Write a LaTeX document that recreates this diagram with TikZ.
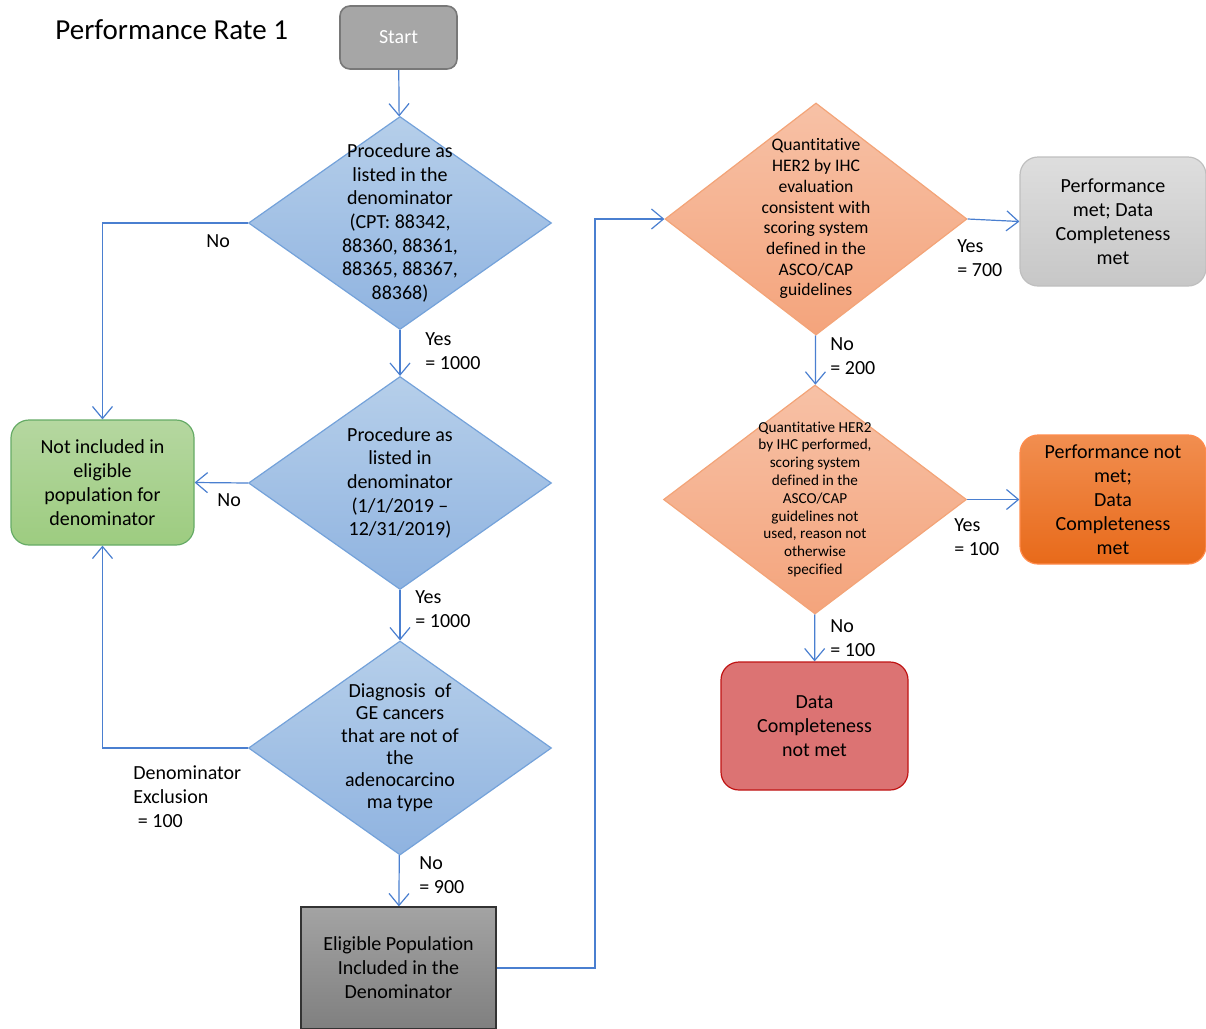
\documentclass[tikz,border=0pt]{standalone}
\usepackage{fontspec}
\setmainfont{Carlito}[Ligatures=NoCommon]
\usetikzlibrary{shapes.geometric,arrows.meta}
\pgfdeclarelayer{edgelayer}
\pgfdeclarelayer{nodelayer}
\pgfsetlayers{edgelayer,nodelayer,main}
\definecolor{linkblue}{HTML}{4A7FD0}
\definecolor{dblueA}{HTML}{B6CFEA}
\definecolor{dblueB}{HTML}{8FB3E0}
\definecolor{dblueL}{HTML}{74A2DA}
\definecolor{dorA}{HTML}{F7C1A6}
\definecolor{dorB}{HTML}{F4A47C}
\definecolor{dorL}{HTML}{F3A478}
\tikzstyle{edge}=[draw=linkblue, line width=0.6pt, -{Straight Barb[length=6pt,width=10pt]}]
\tikzstyle{line}=[draw=linkblue, line width=0.6pt]
\tikzstyle{decision}=[diamond, draw=dblueL, line width=0.6pt, top color=dblueA, bottom color=dblueB, inner sep=0pt, minimum width=151.5pt, minimum height=106.5pt, font=\fontsize{10}{11.8}\selectfont]
\tikzstyle{hecheck}=[diamond, draw=dorL, line width=0.6pt, top color=dorA, bottom color=dorB, inner sep=0pt, minimum width=151pt]
\tikzstyle{outcome}=[rectangle, rounded corners=9pt, line width=0.6pt, align=center, minimum width=93pt, minimum height=64.5pt, font=\fontsize{10}{12}\selectfont]
\tikzstyle{lbl}=[anchor=west, inner sep=0pt, align=left, font=\fontsize{10}{12}\selectfont]
\newcommand{\dtext}[2]{\raisebox{-0.25em}[0pt][0pt]{\parbox{#1}{\centering #2}}}

\begin{document}
\begin{tikzpicture}[x=0.5pt, y=-0.5pt]
				\useasboundingbox (0,0) rectangle (1206,1029);
				\begin{pgfonlayer}{nodelayer}
					\node [anchor=west, inner sep=0pt, font=\fontsize{14.5}{17}\selectfont] (t) at (55,30) {Performance Rate 1};
					\node [rectangle, rounded corners=5pt, draw=black!53, line width=0.8pt, fill=black!35, text=white, minimum width=58.5pt, minimum height=31.5pt, font=\fontsize{10}{12}\selectfont] (0) at (398.5,37.5) {Start};
					\node [style=decision] (1) at (400,223) {\dtext{70pt}{Procedure as\\listed in the\\denominator\\(CPT: 88342,\\88360, 88361,\\88365, 88367,\\88368)}};
					\node [style=decision] (2) at (400,483) {\dtext{70pt}{Procedure as\\listed in\\denominator\\(1/1/2019 --\\12/31/2019)}};
					\node [style=decision, minimum height=107pt, font=\fontsize{10}{11.1}\selectfont] (3) at (400,748) {\dtext{70pt}{Diagnosis~ of\\GE cancers\\that are not of\\the\\adenocarcino\\ma type}};
					\node [rectangle, draw=black!80, line width=0.6pt, top color=black!36, bottom color=black!50, minimum width=97.5pt, minimum height=61pt, align=center, font=\fontsize{10}{12}\selectfont] (4) at (398.5,968) {Eligible Population\\Included in the\\Denominator};
					\node [style=outcome, draw=green!45!black!60!white, top color={rgb,255:red,181;green,215;blue,160}, bottom color={rgb,255:red,157;green,204;blue,128}, minimum width=91.5pt, minimum height=62.5pt] (5) at (102.5,482.5) {Not included in\\eligible\\population for\\denominator};
					\node [style=hecheck, minimum height=116pt, font=\fontsize{8.8}{10.35}\selectfont] (6) at (816,219) {\dtext{62pt}{Quantitative\\HER2 by IHC\\evaluation\\consistent with\\scoring system\\defined in the\\ASCO/CAP\\guidelines}};
					\node [style=hecheck, minimum width=151.5pt, minimum height=114.5pt, font=\fontsize{7.6}{8.9}\selectfont] (7) at (815,499.5) {\dtext{62pt}{Quantitative HER2\\by IHC performed,\\scoring system\\defined in the\\ASCO/CAP\\guidelines not\\used, reason not\\otherwise\\specified}};
					\node [style=outcome, draw=black!25, top color=black!13, bottom color=black!22] (8) at (1113,221.5) {Performance\\met; Data\\Completeness\\met};
					\node [style=outcome, draw=orange!70!red!70!white, top color={rgb,255:red,241;green,142;blue,80}, bottom color={rgb,255:red,232;green,106;blue,26}] (9) at (1113,499.5) {Performance not\\met;\\Data\\Completeness\\met};
					\node [style=outcome, draw={rgb,255:red,192;green,20;blue,20}, fill={rgb,255:red,220;green,115;blue,115}, minimum width=93.5pt, minimum height=64pt] (10) at (814.5,726) {Data\\Completeness\\not met};
					\node [style=lbl] (l1) at (206,241) {No};
					\node [style=lbl] (l2) at (425,351) {Yes\\= 1000};
					\node [style=lbl] (l3) at (217,500) {No};
					\node [style=lbl] (l4) at (415,609) {Yes\\= 1000};
					\node [style=lbl] (l5) at (419,875) {No\\= 900};
					\node [style=lbl] (l6) at (133,797) {Denominator\\Exclusion\\~= 100};
					\node [style=lbl] (l7) at (957,258) {Yes\\= 700};
					\node [style=lbl] (l8) at (830,356) {No\\= 200};
					\node [style=lbl] (l9) at (954,537) {Yes\\= 100};
					\node [style=lbl] (l10) at (830,638) {No\\= 100};
				\end{pgfonlayer}
				\begin{pgfonlayer}{edgelayer}
					\coordinate (bend) at (595,968);
					\draw [style=edge] (0) to (1);
					\draw [style=edge] (1) to (2);
					\draw [style=edge] (2) to (3);
					\draw [style=edge] (3) to (4);
					\draw [style=edge] (1.west) -| (5.north);
					\draw [style=edge] (2.west) to (5.east);
					\draw [style=edge] (3.west) -| (5.south);
					\draw [style=edge] (4.east) -- (bend) |- (6.west);
					\draw [style=edge] (6.east) to (8.west);
					\draw [style=edge] (6) to (7);
					\draw [style=edge] (7.east) to (9.west);
					\draw [style=edge] (7) to (10);
				\end{pgfonlayer}
			\end{tikzpicture}
\end{document}
